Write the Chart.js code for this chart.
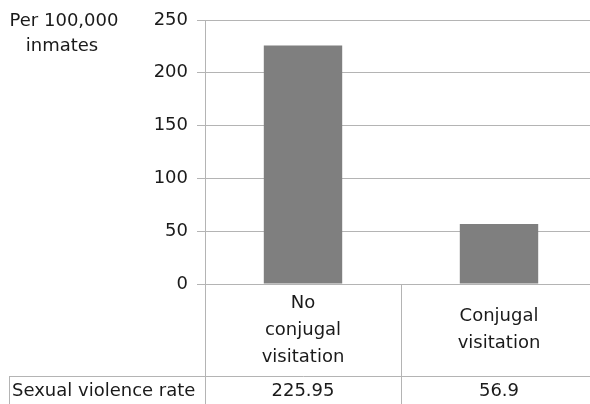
<!DOCTYPE html>
<html>
<head>
<meta charset="utf-8">
<script src="https://cdn.jsdelivr.net/npm/chart.js@4/dist/chart.umd.min.js"></script>
<style>
  html, body { margin: 0; padding: 0; background: #fff; }
  #wrap { width: 590px; height: 404px; overflow: hidden; }
</style>
</head>
<body>
<!-- canvas a bit wider than the window: the reference is cropped at the right -->
<div id="wrap"><canvas id="myChart" width="597" height="404"></canvas></div>
<script>
var categories = [['No', 'conjugal', 'visitation'], ['Conjugal', 'visitation']];
var rates = [225.95, 56.9];
var rowLabel = 'Sexual violence rate';
var unitLabel = ['Per 100,000', 'inmates'];
var yMin = 0, yMax = 250, yStep = 50;

var FONT = '"DejaVu Sans", sans-serif';
var TEXT = '#1a1a1a';
var LINE = '#b4b4b4';

// data table under the plot + unit label top left
var tablePlugin = {
    id: 'table',
    afterDraw: function (chart) {
        var c = chart.ctx, area = chart.chartArea, x = chart.scales.x;
        var rowY = 376, bottom = chart.height;
        c.save();
        c.strokeStyle = LINE;
        c.lineWidth = 1;
        c.beginPath();
        c.moveTo(9.5, rowY + 0.5); c.lineTo(chart.width, rowY + 0.5);
        c.moveTo(9.5, rowY); c.lineTo(9.5, bottom);
        c.moveTo(area.left + 0.5, area.bottom); c.lineTo(area.left + 0.5, bottom);
        for (var i = 0; i < categories.length - 1; i++) {
            var mid = Math.round((x.getPixelForValue(i) + x.getPixelForValue(i + 1)) / 2) + 0.5;
            c.moveTo(mid, area.bottom); c.lineTo(mid, bottom);
        }
        c.stroke();

        c.fillStyle = TEXT;
        c.font = '18px ' + FONT;
        c.textAlign = 'center';
        c.textBaseline = 'middle';
        var lh = 27, cellMid = (area.bottom + rowY) / 2;
        categories.forEach(function (lines, i) {
            var cx = x.getPixelForValue(i);
            var y0 = cellMid - (lines.length - 1) * lh / 2;
            lines.forEach(function (t, j) { c.fillText(t, cx, y0 + j * lh); });
            c.fillText(String(rates[i]), cx, 391);
        });
        c.textAlign = 'left';
        c.fillText(rowLabel, 12, 391);

        c.textAlign = 'center';
        c.fillText(unitLabel[0], 64, 21);
        c.fillText(unitLabel[1], 62, 46);
        c.restore();
    }
};

var ctx = document.getElementById('myChart').getContext('2d');
var myChart = new Chart(ctx, {
    type: 'bar',
    data: {
        labels: categories,
        datasets: [{
            label: rowLabel,
            data: rates,
            backgroundColor: '#7f7f7f',
            borderWidth: 0,
            categoryPercentage: 1,
            barPercentage: 0.4
        }]
    },
    options: {
        responsive: false,
        animation: false,
        layout: { padding: { top: 20, bottom: 120, left: 0, right: 0 } },
        plugins: {
            legend: { display: false },
            tooltip: { enabled: false }
        },
        scales: {
            x: { display: false },
            y: {
                min: yMin,
                max: yMax,
                afterFit: function (s) { s.width = 205; },
                ticks: {
                    stepSize: yStep,
                    padding: 9,
                    color: TEXT,
                    font: { family: FONT, size: 18 }
                },
                grid: { color: LINE, tickLength: 8 },
                border: { color: LINE }
            }
        }
    },
    plugins: [tablePlugin]
});
</script>
</body>
</html>
